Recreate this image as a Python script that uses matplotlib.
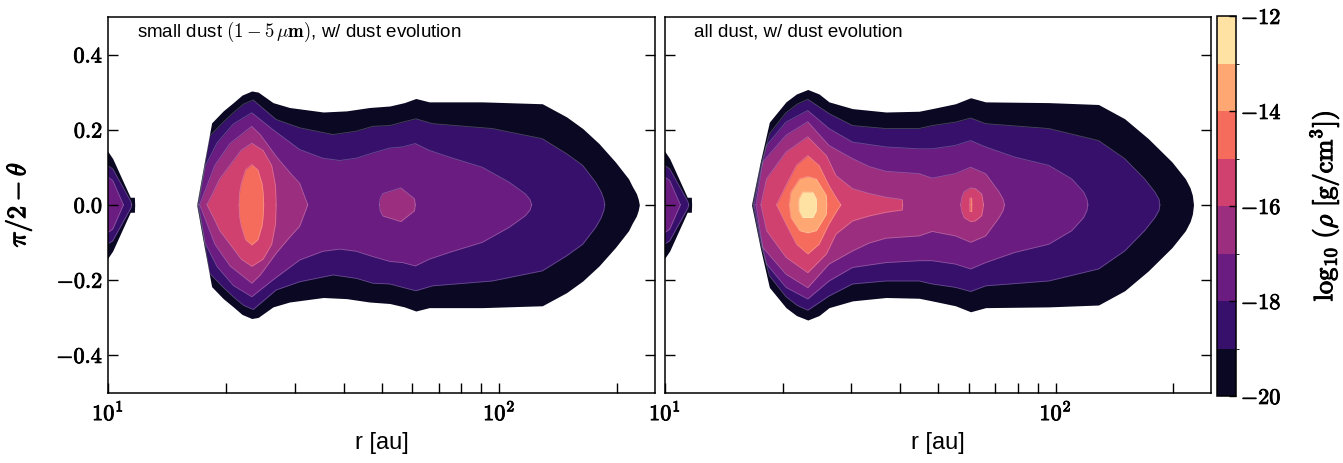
import matplotlib
matplotlib.use('Agg')
import matplotlib.pyplot as plt
import matplotlib.patheffects as pe
from matplotlib.colors import ListedColormap, BoundaryNorm
from matplotlib.cm import ScalarMappable
import numpy as np

plt.rcParams['mathtext.fontset'] = 'cm'
plt.rcParams['font.family'] = ['Liberation Sans', 'DejaVu Sans']

# contour levels of log10(rho)
levels = [-20, -19, -18, -17, -16, -15, -14, -13, -12]

# upper half (pi/2 - theta >= 0) of each filled contour
# r in au, z = pi/2 - theta ; the lower half is the mirror image

# inner blob near 10 au (same in both panels)
blob20_r = [9.8, 10.28, 11.4, 11.68, 11.7]
blob20_z = [0.155, 0.123, 0.02, 0.02, 0.0]
blob19_r = [9.8, 10.28, 11.45, 11.5]
blob19_z = [0.11, 0.096, 0.008, 0.0]
blob18_r = [9.8, 10.28, 10.95]
blob18_z = [0.08, 0.065, 0.0]

# --- left panel : small dust (1-5 micron)
sd20_r = [16.85, 17.6, 18.4, 19.7, 20.9, 22.0, 23.3, 24.2, 26.4, 29.1, 35.5, 40.7, 46.6,
          52.5, 57.2, 61.2, 66.2, 90.5, 128.8, 148.6, 163.4, 179.8, 198.0, 214.0,
          218.5, 224.0, 226.5, 228.0]
sd20_z = [0.0, 0.11, 0.218, 0.25, 0.272, 0.292, 0.303, 0.30, 0.272, 0.259, 0.247, 0.25, 0.259,
          0.263, 0.272, 0.283, 0.274, 0.274, 0.269, 0.234, 0.203, 0.163, 0.114, 0.069,
          0.05, 0.03, 0.015, 0.0]
sd19_r = [16.95, 17.6, 18.2, 19.7, 20.9, 22.2, 23.5, 26.9, 30.9, 37.6, 43.1, 47.5, 52.5,
          56.6, 61.2, 67.5, 96.0, 128.8, 148.6, 163.4, 176.3, 182.0, 185.0, 186.0]
sd19_z = [0.0, 0.09, 0.183, 0.22, 0.245, 0.268, 0.279, 0.227, 0.205, 0.187, 0.196, 0.209, 0.211,
          0.22, 0.229, 0.216, 0.203, 0.176, 0.136, 0.105, 0.06, 0.035, 0.015, 0.0]
sd18_r = [17.05, 17.7, 19.0, 20.9, 23.3, 26.4, 30.9, 35.4, 39.1, 43.1, 47.5, 52.5, 56.6,
          61.0, 66.2, 74.5, 90.5, 106.0, 116.6, 119.8, 121.0]
sd18_z = [0.0, 0.102, 0.165, 0.215, 0.245, 0.2, 0.147, 0.124, 0.118, 0.124, 0.138, 0.151, 0.154,
          0.163, 0.145, 0.127, 0.1, 0.06, 0.029, 0.014, 0.0]
sd17_r = [17.15, 18.75, 20.5, 23.3, 24.5, 26.9, 29.1, 30.9, 32.4]
sd17_z = [0.0, 0.105, 0.163, 0.209, 0.187, 0.129, 0.087, 0.057, 0.0]
sd17b_r = [49.4, 49.6, 50.4, 53.4, 56.0, 58.4, 60.7, 61.0]
sd17b_z = [0.0, 0.016, 0.03, 0.038, 0.045, 0.03, 0.016, 0.0]
sd16_r = [17.9, 18.6, 19.3, 20.5, 21.9, 23.3, 24.9, 26.2, 26.8, 26.9]
sd16_z = [0.0, 0.034, 0.069, 0.105, 0.145, 0.164, 0.145, 0.105, 0.051, 0.0]
sd15_r = [21.62, 21.68, 21.9, 22.47, 23.3, 24.16, 24.76, 24.93, 25.0]
sd15_z = [0.0, 0.03, 0.056, 0.093, 0.107, 0.093, 0.056, 0.03, 0.0]

# --- right panel : all dust
ad20_r = [16.65, 17.5, 18.5, 20.4, 21.7, 23.2, 24.8, 26.3, 30.2, 36.8, 44.7, 48.3, 55.4,
          60.6, 66.2, 96.1, 128.8, 150.3, 172.8, 198.6, 215.0, 221.0, 224.0, 225.5]
ad20_z = [0.0, 0.11, 0.22, 0.274, 0.295, 0.307, 0.295, 0.274, 0.256, 0.247, 0.249, 0.256, 0.269,
          0.285, 0.274, 0.272, 0.267, 0.229, 0.176, 0.114, 0.069, 0.045, 0.025, 0.0]
ad19_r = [16.8, 17.5, 18.5, 20.4, 21.8, 23.2, 26.3, 30.2, 36.8, 44.7, 48.3, 55.4, 60.6,
          66.2, 96.1, 128.8, 150.3, 169.0, 179.6, 184.0, 185.0]
ad19_z = [0.0, 0.095, 0.189, 0.245, 0.268, 0.281, 0.243, 0.211, 0.203, 0.203, 0.211, 0.22, 0.231,
          0.216, 0.203, 0.171, 0.123, 0.069, 0.034, 0.015, 0.0]
ad18_r = [16.9, 17.5, 18.2, 20.4, 23.2, 26.3, 30.2, 36.8, 44.7, 48.3, 55.4, 60.6, 66.2,
          78.6, 96.1, 110.0, 118.0, 120.3, 121.0]
ad18_z = [0.0, 0.08, 0.158, 0.22, 0.251, 0.203, 0.167, 0.154, 0.149, 0.149, 0.158, 0.171, 0.154,
          0.127, 0.105, 0.069, 0.034, 0.015, 0.0]
ad17_r = [17.1, 17.8, 20.4, 23.2, 26.3, 30.2, 33.3, 36.8, 44.7, 48.3, 55.4, 60.6, 66.2,
          71.7, 73.4, 74.0]
ad17_z = [0.0, 0.114, 0.185, 0.221, 0.158, 0.123, 0.102, 0.089, 0.083, 0.071, 0.083, 0.1, 0.083,
          0.034, 0.015, 0.0]
ad16_r = [17.6, 18.2, 20.4, 23.2, 25.9, 27.4, 30.2, 33.3, 36.8, 40.5, 40.6]
ad16_z = [0.0, 0.069, 0.14, 0.181, 0.131, 0.078, 0.043, 0.03, 0.02, 0.014, 0.0]
ad16b_r = [57.1, 57.6, 58.3, 60.6, 62.3, 64.7, 65.4]
ad16b_z = [0.0, 0.02, 0.034, 0.045, 0.043, 0.029, 0.0]
ad15_r = [19.3, 20.4, 21.7, 23.2, 24.8, 26.3, 27.4, 28.2]
ad15_z = [0.0, 0.051, 0.105, 0.131, 0.105, 0.051, 0.02, 0.0]
ad15b_r = [60.3, 60.32, 61.0, 61.02]
ad15b_z = [0.0, 0.018, 0.018, 0.0]
ad14_r = [20.8, 21.0, 22.1, 23.2, 24.4, 25.9, 25.95]
ad14_z = [0.0, 0.034, 0.069, 0.075, 0.069, 0.025, 0.0]
ad13_r = [22.0, 22.02, 22.5, 23.9, 24.4, 24.42]
ad13_z = [0.0, 0.016, 0.034, 0.034, 0.016, 0.0]

small_dust = [(-20, blob20_r, blob20_z), (-20, sd20_r, sd20_z),
              (-19, blob19_r, blob19_z), (-19, sd19_r, sd19_z),
              (-18, blob18_r, blob18_z), (-18, sd18_r, sd18_z),
              (-17, sd17_r, sd17_z), (-17, sd17b_r, sd17b_z),
              (-16, sd16_r, sd16_z), (-15, sd15_r, sd15_z)]
all_dust = [(-20, blob20_r, blob20_z), (-20, ad20_r, ad20_z),
            (-19, blob19_r, blob19_z), (-19, ad19_r, ad19_z),
            (-18, blob18_r, blob18_z), (-18, ad18_r, ad18_z),
            (-17, ad17_r, ad17_z),
            (-16, ad16_r, ad16_z), (-16, ad16b_r, ad16b_z),
            (-15, ad15_r, ad15_z), (-15, ad15b_r, ad15b_z),
            (-14, ad14_r, ad14_z), (-13, ad13_r, ad13_z)]

titles = [r'small dust $(\mathbf{1-5}\,\mu\mathrm{\mathbf{m}})$, w/ dust evolution',
          'all dust, w/ dust evolution']

cmap = plt.get_cmap('magma')
nband = len(levels) - 1
band_colors = [cmap((i + 0.5) / nband) for i in range(nband)]

W, H = 1343, 464
fig = plt.figure(figsize=(W / 100, H / 100), dpi=100)
ax1 = fig.add_axes([108 / W, 1 - 393.5 / H, 547 / W, 375.5 / H])
ax2 = fig.add_axes([665 / W, 1 - 393.5 / H, 546 / W, 375.5 / H])
cax = fig.add_axes([1217 / W, 1 - 397 / H, 19 / W, 380 / H])

bold = lambda s: r'$\mathbf{' + s + '}$'
stroke = [pe.withStroke(linewidth=0.8, foreground='black')]
thin_stroke = [pe.withStroke(linewidth=0.6, foreground='black')]

for ax, data, title in zip([ax1, ax2], [small_dust, all_dust], titles):
    for lev, r, z in data:
        r = np.array(r)
        z = np.array(z)
        col = band_colors[lev - levels[0]]
        ax.fill_between(r, -z, z, color=col, lw=0)
        if lev > levels[0]:
            # faint light seam between neighbouring bands, like contourf
            ax.plot(r, z, color='white', lw=0.6, alpha=0.25)
            ax.plot(r, -z, color='white', lw=0.6, alpha=0.25)
    ax.set_xscale('log')
    ax.set_xlim(10, 250)
    ax.set_ylim(-0.5, 0.5)
    ax.set_xticks([10, 100])
    ax.set_xticklabels([bold('10^{1}'), bold('10^{2}')])
    ax.set_xticks([20, 30, 40, 50, 60, 70, 80, 90, 200], minor=True)
    ax.set_xticklabels([], minor=True)
    ax.set_yticks([-0.4, -0.2, 0.0, 0.2, 0.4])
    ax.tick_params(which='both', direction='in', length=7.5, width=1,
                   top=False, right=True, labelsize=16)
    ax.tick_params(axis='x', which='both', pad=6)
    for sp in ax.spines.values():
        sp.set_linewidth(1.1)
    ax.set_xlabel('r [au]', fontsize=17, labelpad=4)
    ax.text(0.053, 0.962, title, transform=ax.transAxes, ha='left', va='center', fontsize=13.5)
    for lab in ax.get_xticklabels():
        lab.set_path_effects(thin_stroke)

ax1.set_yticklabels([bold('%.1f' % v) for v in [-0.4, -0.2, 0.0, 0.2, 0.4]])
for lab in ax1.get_yticklabels():
    lab.set_path_effects(thin_stroke)
ax2.set_yticklabels([])
ax1.set_ylabel(r'$\pi/2-\theta$', fontsize=19, path_effects=stroke)
ax1.yaxis.set_label_coords(-0.135, 0.5)

# colorbar with the discrete magma bands
sm = ScalarMappable(norm=BoundaryNorm(levels, nband), cmap=ListedColormap(band_colors))
cb = fig.colorbar(sm, cax=cax, ticks=[-20, -18, -16, -14, -12])
cb.ax.set_yticklabels([bold('%d' % v) for v in [-20, -18, -16, -14, -12]])
cb.ax.tick_params(direction='in', length=5, width=1, labelsize=16)
for lab in cb.ax.get_yticklabels():
    lab.set_path_effects(thin_stroke)
cb.outline.set_linewidth(1.1)
cb.set_label(r'$\log_{10}\,(\rho\ [\mathrm{g/cm^{3}}])$', fontsize=19, path_effects=stroke)
cb.ax.yaxis.set_label_coords(4.75, 0.5)

fig.savefig('out.png', dpi=100)
